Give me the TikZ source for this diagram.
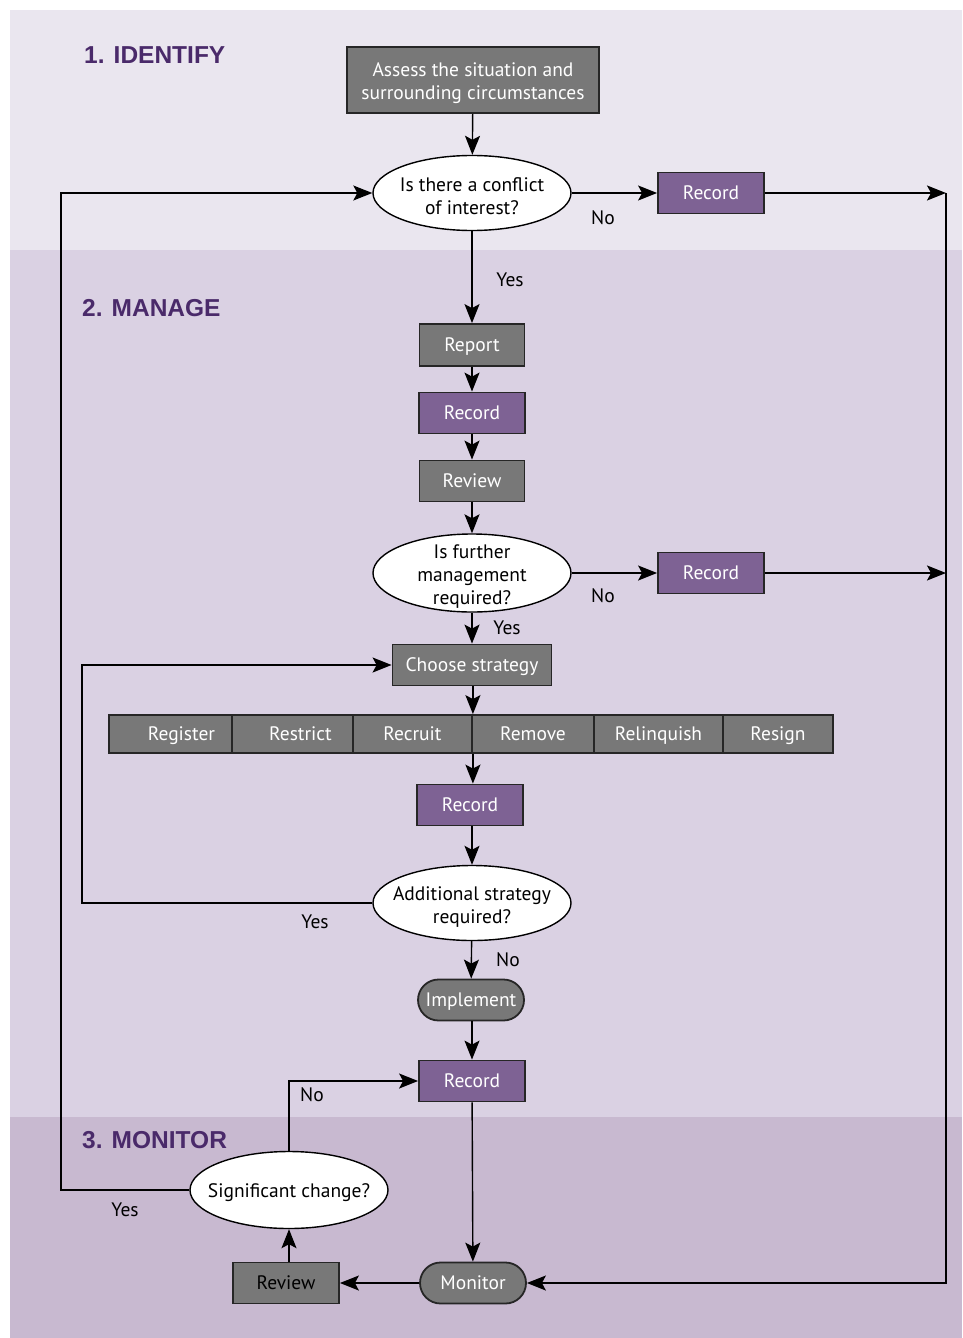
\documentclass[tikz,border=0pt]{standalone}
\usepackage{fontspec}
\setmainfont{PT Sans}
\newfontfamily\headfont{Liberation Sans}
\usetikzlibrary{arrows.meta,shapes.geometric,shapes.misc}
\definecolor{bandA}{HTML}{EAE6EF}
\definecolor{bandB}{HTML}{DAD1E3}
\definecolor{bandC}{HTML}{C8B9D0}
\definecolor{boxgray}{HTML}{787878}
\definecolor{boxpurple}{HTML}{7E6294}
\definecolor{headpurple}{HTML}{4A2A6A}
\begin{document}
\begin{tikzpicture}[x=1pt,y=-1pt,
  font=\fontsize{19.5}{23}\selectfont,
  base/.style={draw=black!85, line width=1.8pt, text=white, inner sep=0pt, text height=15pt, text depth=1.5pt},
  graybox/.style={base, fill=boxgray},
  recbox/.style={base, fill=boxpurple, minimum width=106pt, minimum height=41pt},
  cell/.style={base, fill=boxgray, minimum height=38pt},
  decision/.style={ellipse, draw=black, line width=1.4pt, fill=white, text=black, minimum width=198pt, minimum height=75pt, inner xsep=-25pt, inner ysep=-10pt, align=center},
  pill/.style={rounded rectangle, base, fill=boxgray, minimum width=106pt, minimum height=41pt},
  conn/.style={line width=1.4pt, -{Stealth[length=19pt,width=15pt,inset=4pt]}},
  lbl/.style={text=black, inner sep=0pt},
  head/.style={text=headpurple, font=\headfont\fontsize{24.5}{28}\selectfont\bfseries, anchor=west, inner sep=0pt}
]
\useasboundingbox (0,0) rectangle (962,1338);
\fill[white] (0,0) rectangle (962,1338);
\fill[bandA] (10,10) rectangle (962,250);
\fill[bandB] (10,250) rectangle (962,1117);
\fill[bandC] (10,1117) rectangle (962,1338);

\node[head] (h1) at (84,55) {1. IDENTIFY};
\node[head] (h2) at (82,308) {2. MANAGE};
\node[head] (h3) at (82,1140) {3. MONITOR};

\node[graybox, minimum width=252pt, minimum height=66pt, align=center, text height=, text depth=] (assess) at (473,80) {\rule{0pt}{20pt}Assess the situation and\\surrounding circumstances};
\node[decision] (q1) at (472,193) {\rule{0pt}{20pt}Is there a conflict\\of interest?};
\node[recbox] (rec1) at (711,193) {Record};
\coordinate (r1end) at (946,193);
\node[graybox, minimum width=105pt, minimum height=42pt] (report) at (472,345) {Report};
\node[recbox] (rec2) at (472,413) {Record};
\node[graybox, minimum width=105pt, minimum height=41pt] (review1) at (472,481) {Review};
\node[decision, minimum height=78pt] (q2) at (472,573) {\rule{0pt}{20pt}Is further\\management\\required?};
\node[recbox] (rec3) at (711,573) {Record};
\coordinate (r3end) at (946,573);
\node[graybox, minimum width=159pt, minimum height=41pt] (choose) at (472,665) {Choose strategy};

\node[cell, minimum width=123pt] (c1) at (170.5,734) {\hspace*{22pt}Register};
\node[cell, minimum width=121pt] (c2) at (292.5,734) {\hspace*{16pt}Restrict};
\node[cell, minimum width=119pt] (c3) at (412.5,734) {Recruit};
\node[cell, minimum width=122pt] (c4) at (533,734) {Remove};
\node[cell, minimum width=129pt] (c5) at (658.5,734) {Relinquish};
\node[cell, minimum width=110pt] (c6) at (778,734) {Resign};

\node[recbox] (rec4) at (470,805) {Record};
\node[decision] (q3) at (472,903) {\rule{0pt}{21pt}Additional strategy\\required?};
\node[pill] (impl) at (471,1000) {Implement};
\node[recbox] (rec5) at (472,1081) {Record};
\node[pill] (monitor) at (473,1283) {Monitor};
\node[graybox, text=black, minimum width=106pt, minimum height=41pt] (review2) at (286,1283) {Review};
\node[decision, minimum height=77pt, text height=16pt, text depth=1pt] (q4) at (289,1190) {Significant change?};

\coordinate (yesL) at (61,0);
\coordinate (loopL) at (82,0);

\draw[conn] (assess) -- (q1);
\draw[conn] (q1) -- (rec1);
\draw[conn] (rec1) -- (r1end);
\draw[conn] (q1) -- (report);
\draw[conn] (report) -- (rec2);
\draw[conn] (rec2) -- (review1);
\draw[conn] (review1) -- (q2);
\draw[conn] (q2) -- (rec3);
\draw[conn] (rec3) -- (r3end);
\draw[conn] (q2) -- (choose);
\draw[conn] (choose.south -| c3.north east) -- (c3.north east);
\draw[conn] (c3.south east) -- (c3.south east |- rec4.north);
\draw[conn] (rec4.south -| q3.north) -- (q3.north);
\draw[conn] (q3.west) -- (q3.west -| loopL) |- (choose.west);
\draw[conn] (q3) -- (impl);
\draw[conn] (impl.south -| rec5.north) -- (rec5.north);
\draw[conn] (rec5) -- (monitor);
\draw[conn] (monitor) -- (review2);
\draw[conn] (review2.north -| q4.south) -- (q4.south);
\draw[conn] (q4.north) |- (rec5.west);
\draw[conn] (q4.west) -- (q4.west -| yesL) -- (q1.west -| yesL) -- (q1.west);
\draw[conn] (r1end) |- (monitor.east);

\node[lbl] (l1) at (603,218) {No};
\node[lbl] (l2) at (510,280) {Yes};
\node[lbl] (l3) at (603,596) {No};
\node[lbl] (l4) at (507,628) {Yes};
\node[lbl] (l5) at (315,922) {Yes};
\node[lbl] (l6) at (508,960) {No};
\node[lbl] (l7) at (312,1095) {No};
\node[lbl] (l8) at (125,1210) {Yes};
\end{tikzpicture}
\end{document}
